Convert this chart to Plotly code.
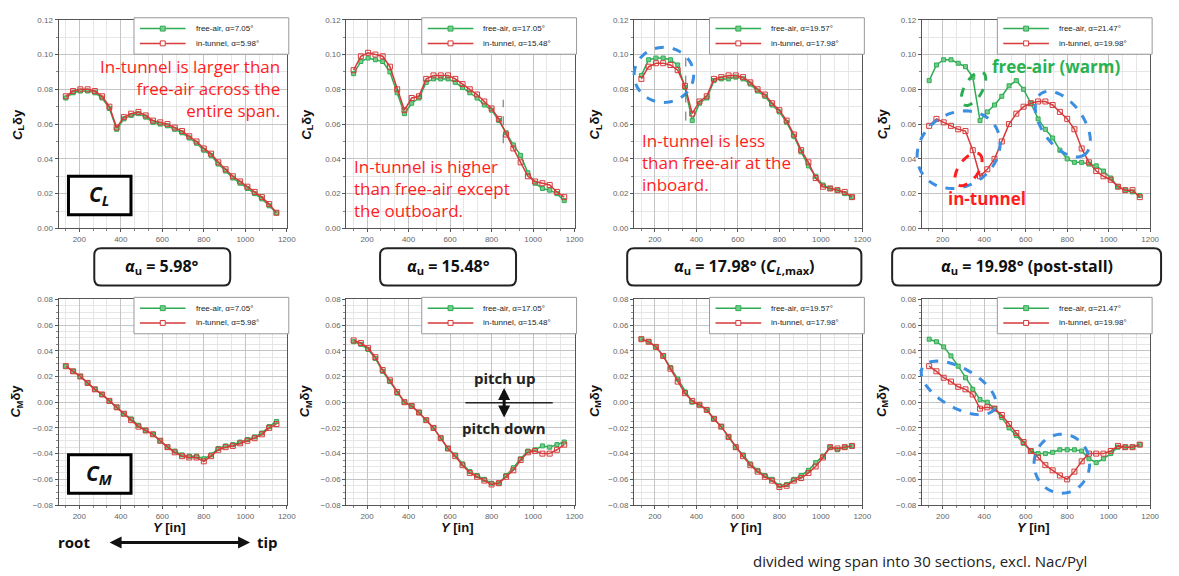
import numpy as np
import plotly.graph_objects as go

W, H = 1179, 576

# ---------------- data ----------------
span_y = [135, 170, 205, 240, 275, 310, 345, 380, 415, 450, 485, 520, 555, 590, 625,
          660, 695, 730, 765, 800, 835, 870, 905, 940, 975, 1010, 1045, 1080, 1115, 1150]

# Sectional lift  C_L*dy
cl_free_1 = [0.075, 0.078, 0.079, 0.079, 0.078, 0.075, 0.069, 0.057, 0.063, 0.065, 0.066, 0.064, 0.061, 0.060, 0.059,
             0.057, 0.055, 0.052, 0.049, 0.045, 0.042, 0.037, 0.033, 0.029, 0.026, 0.023, 0.020, 0.017, 0.013, 0.009]
cl_tun_1 = [0.076, 0.079, 0.080, 0.080, 0.079, 0.076, 0.070, 0.058, 0.064, 0.066, 0.067, 0.065, 0.062, 0.061, 0.060,
            0.058, 0.056, 0.053, 0.050, 0.046, 0.043, 0.038, 0.034, 0.030, 0.027, 0.024, 0.021, 0.018, 0.014, 0.009]
cl_free_2 = [0.089, 0.096, 0.098, 0.097, 0.096, 0.090, 0.078, 0.066, 0.072, 0.075, 0.084, 0.086, 0.086, 0.086, 0.084,
             0.081, 0.078, 0.075, 0.071, 0.068, 0.062, 0.055, 0.048, 0.042, 0.032, 0.026, 0.023, 0.022, 0.020, 0.016]
cl_tun_2 = [0.091, 0.099, 0.101, 0.100, 0.099, 0.093, 0.080, 0.068, 0.075, 0.076, 0.086, 0.088, 0.088, 0.088, 0.086,
            0.083, 0.080, 0.077, 0.073, 0.069, 0.063, 0.054, 0.046, 0.038, 0.030, 0.027, 0.026, 0.025, 0.021, 0.018]
cl_free_3 = [0.088, 0.097, 0.098, 0.098, 0.097, 0.094, 0.081, 0.062, 0.072, 0.075, 0.085, 0.086, 0.086, 0.087, 0.086,
             0.083, 0.079, 0.076, 0.071, 0.067, 0.061, 0.053, 0.044, 0.036, 0.030, 0.025, 0.023, 0.022, 0.020, 0.018]
cl_tun_3 = [0.086, 0.093, 0.095, 0.095, 0.094, 0.091, 0.082, 0.066, 0.073, 0.076, 0.086, 0.087, 0.088, 0.088, 0.087,
            0.084, 0.080, 0.077, 0.072, 0.068, 0.062, 0.054, 0.045, 0.038, 0.029, 0.024, 0.023, 0.022, 0.021, 0.018]
cl_free_4 = [0.085, 0.094, 0.097, 0.097, 0.095, 0.093, 0.087, 0.062, 0.067, 0.071, 0.076, 0.082, 0.085, 0.080, 0.072,
             0.063, 0.057, 0.052, 0.045, 0.040, 0.038, 0.038, 0.037, 0.036, 0.033, 0.029, 0.024, 0.022, 0.021, 0.019]
cl_tun_4 = [0.059, 0.063, 0.061, 0.059, 0.057, 0.056, 0.045, 0.030, 0.034, 0.040, 0.050, 0.060, 0.066, 0.070, 0.072,
            0.073, 0.073, 0.071, 0.067, 0.063, 0.057, 0.046, 0.038, 0.033, 0.030, 0.028, 0.024, 0.022, 0.022, 0.018]

# Sectional pitching moment  C_M*dy
cm_free_1 = [0.028, 0.024, 0.020, 0.015, 0.010, 0.006, 0.001, -0.004, -0.009, -0.013, -0.018, -0.022, -0.025, -0.030, -0.035,
             -0.038, -0.041, -0.042, -0.042, -0.044, -0.041, -0.036, -0.034, -0.033, -0.031, -0.029, -0.027, -0.024, -0.019, -0.015]
cm_tun_1 = [0.028, 0.024, 0.020, 0.015, 0.010, 0.006, 0.001, -0.004, -0.009, -0.014, -0.019, -0.022, -0.025, -0.030, -0.035,
            -0.039, -0.042, -0.043, -0.043, -0.046, -0.042, -0.037, -0.035, -0.034, -0.032, -0.030, -0.028, -0.025, -0.020, -0.017]
cm_free_2 = [0.047, 0.045, 0.041, 0.034, 0.024, 0.016, 0.007, 0.000, -0.003, -0.008, -0.014, -0.020, -0.028, -0.036, -0.041,
             -0.048, -0.054, -0.057, -0.060, -0.063, -0.063, -0.057, -0.051, -0.044, -0.038, -0.037, -0.034, -0.035, -0.033, -0.031]
cm_tun_2 = [0.048, 0.046, 0.042, 0.035, 0.025, 0.017, 0.008, 0.000, -0.003, -0.008, -0.014, -0.020, -0.028, -0.036, -0.042,
            -0.049, -0.055, -0.058, -0.061, -0.064, -0.063, -0.058, -0.053, -0.045, -0.039, -0.038, -0.040, -0.040, -0.037, -0.033]
cm_free_3 = [0.049, 0.047, 0.043, 0.036, 0.027, 0.018, 0.008, 0.000, -0.002, -0.006, -0.013, -0.019, -0.027, -0.035, -0.041,
             -0.048, -0.053, -0.057, -0.060, -0.065, -0.064, -0.060, -0.057, -0.053, -0.047, -0.042, -0.035, -0.037, -0.035, -0.034]
cm_tun_3 = [0.049, 0.047, 0.043, 0.036, 0.026, 0.016, 0.007, 0.001, -0.002, -0.006, -0.013, -0.019, -0.027, -0.035, -0.042,
            -0.049, -0.054, -0.058, -0.061, -0.066, -0.065, -0.061, -0.059, -0.055, -0.050, -0.043, -0.035, -0.036, -0.035, -0.034]
cm_free_4 = [0.049, 0.047, 0.043, 0.036, 0.028, 0.019, 0.010, 0.002, 0.000, -0.005, -0.012, -0.020, -0.026, -0.032, -0.038,
             -0.040, -0.040, -0.039, -0.037, -0.037, -0.037, -0.038, -0.044, -0.047, -0.044, -0.040, -0.035, -0.035, -0.035, -0.033]
cm_tun_4 = [0.028, 0.024, 0.019, 0.016, 0.012, 0.010, 0.006, -0.005, -0.004, -0.005, -0.010, -0.017, -0.024, -0.031, -0.038,
            -0.043, -0.049, -0.053, -0.057, -0.060, -0.054, -0.046, -0.040, -0.040, -0.040, -0.038, -0.034, -0.035, -0.035, -0.033]

alpha_free = ["7.05", "17.05", "19.57", "21.47"]
alpha_tunnel = ["5.98", "15.48", "17.98", "19.98"]
cl_free = [cl_free_1, cl_free_2, cl_free_3, cl_free_4]
cl_tun = [cl_tun_1, cl_tun_2, cl_tun_3, cl_tun_4]
cm_free = [cm_free_1, cm_free_2, cm_free_3, cm_free_4]
cm_tun = [cm_tun_1, cm_tun_2, cm_tun_3, cm_tun_4]

x_ticks = [200, 400, 600, 800, 1000, 1200]

# ---------------- layout helpers ----------------
def PX(p):
    return p / W

def PY(p):
    return 1 - p / H

GREEN = "rgb(46,172,84)"
GREEN_M = "rgb(120,205,140)"
RED = "rgb(214,58,58)"
BLUE = "rgb(60,142,224)"
TXT_RED = "rgb(255,30,30)"
TXT_GREEN = "rgb(40,178,80)"

col_px = [(59, 289), (349, 579), (639, 869), (929, 1159)]
top_px = (16, 228)
bot_px = (300, 509)

fig = go.Figure()
layout = dict(
    width=W, height=H, margin=dict(l=0, r=0, t=0, b=0),
    paper_bgcolor="white", plot_bgcolor="white", showlegend=False,
    font=dict(family="Liberation Sans", color="#333"),
)

axis_common = dict(
    showline=True, linecolor="#555", linewidth=1, mirror=True,
    ticks="outside", ticklen=3, tickcolor="#555", zeroline=False,
    showgrid=True, gridcolor="#c4c4c4", gridwidth=1,
    tickfont=dict(size=8, color="#666", family="Liberation Sans"),
)

annotations = []
shapes = []

def ann(px, py, text, size=12, color="#222", xanchor="center", yanchor="middle", align="center",
        family="Open Sans", angle=0):
    annotations.append(dict(x=PX(px), y=PY(py), xref="paper", yref="paper", text=text,
                            showarrow=False, xanchor=xanchor, yanchor=yanchor, align=align,
                            textangle=angle, font=dict(size=size, color=color, family=family)))

def legend_box(x_right, y_top, labels):
    bx1 = x_right + 2
    bx0 = bx1 - 156
    by0 = y_top - 2
    by1 = by0 + 37
    shapes.append(dict(type="rect", xref="paper", yref="paper", x0=PX(bx0), x1=PX(bx1),
                       y0=PY(by1), y1=PY(by0), line=dict(color="#999", width=1), fillcolor="white",
                       layer="above"))
    for i, (lab, col, fill) in enumerate(labels):
        yy = by0 + 11 + 15 * i
        shapes.append(dict(type="line", xref="paper", yref="paper", x0=PX(bx0 + 6), x1=PX(bx0 + 52),
                           y0=PY(yy), y1=PY(yy), line=dict(color=col, width=1.5), layer="above"))
        cx = bx0 + 29
        shapes.append(dict(type="rect", xref="paper", yref="paper", x0=PX(cx - 2.5), x1=PX(cx + 2.5),
                           y0=PY(yy + 2.5), y1=PY(yy - 2.5), line=dict(color=col, width=1),
                           fillcolor=fill, layer="above"))
        ann(bx0 + 60, yy, lab, size=8, color="#222", xanchor="left", family="Liberation Sans")

for r in range(2):
    ypx = top_px if r == 0 else bot_px
    for c in range(4):
        k = r * 4 + c + 1
        xa = "xaxis" if k == 1 else f"xaxis{k}"
        ya = "yaxis" if k == 1 else f"yaxis{k}"
        xr = "x" if k == 1 else f"x{k}"
        yr = "y" if k == 1 else f"y{k}"
        x0, x1 = col_px[c]
        layout[xa] = dict(axis_common, domain=[PX(x0), PX(x1)], anchor=yr, range=[100, 1200],
                          tickvals=x_ticks,
                          minor=dict(dtick=200 / 3, tick0=0, showgrid=True, gridcolor="#e6e6e6",
                                     ticks="outside", ticklen=2, tickcolor="#888"))
        if r == 0:
            layout[ya] = dict(axis_common, domain=[PY(ypx[1]), PY(ypx[0])], anchor=xr,
                              range=[0, 0.12], dtick=0.02, tick0=0, tickformat=".2f",
                              minor=dict(dtick=0.01, showgrid=True, gridcolor="#e6e6e6",
                                         ticks="outside", ticklen=2, tickcolor="#888"))
            f_vals, t_vals = cl_free[c], cl_tun[c]
        else:
            layout[ya] = dict(axis_common, domain=[PY(ypx[1]), PY(ypx[0])], anchor=xr,
                              range=[-0.08, 0.08], dtick=0.02, tick0=0, tickformat=".2f",
                              minor=dict(dtick=0.005, showgrid=True, gridcolor="#e6e6e6",
                                         ticks="outside", ticklen=2, tickcolor="#888"))
            f_vals, t_vals = cm_free[c], cm_tun[c]
        name_f = f"free-air, α={alpha_free[c]}°"
        name_t = f"in-tunnel, α={alpha_tunnel[c]}°"
        fig.add_trace(go.Scatter(
            x=span_y, y=f_vals, mode="lines+markers", xaxis=xr, yaxis=yr, name=name_f,
            line=dict(color=GREEN, width=1.5),
            marker=dict(symbol="square", size=4, color=GREEN_M, line=dict(color=GREEN, width=1))))
        fig.add_trace(go.Scatter(
            x=span_y, y=t_vals, mode="lines+markers", xaxis=xr, yaxis=yr, name=name_t,
            line=dict(color=RED, width=1.5),
            marker=dict(symbol="square-open", size=5, color=RED, line=dict(color=RED, width=1))))
        legend_box(x1, ypx[0], [(name_f, GREEN, GREEN_M), (name_t, RED, "white")])

fig.update_layout(**layout)

# y-axis titles
for cx in [18, 309, 600, 890]:
    ann(cx, 122, "<b><i>C</i><sub>L</sub>δy</b>", size=13, color="#111", family="Liberation Sans", angle=-90)
for cx in [17, 308, 600, 889]:
    ann(cx, 403, "<b><i>C</i><sub>M</sub>δy</b>", size=13, color="#111", family="Liberation Sans", angle=-90)
# x-axis titles (bottom row)
for (x0, x1) in col_px:
    ann((x0 + x1) / 2 - 3, 532, "<b><i>Y</i> [in]</b>", size=13, color="#111", family="Liberation Sans")

# red / green comments
ann(284, 86, "In-tunnel is larger than<br>free-air across the<br>entire span.", size=17,
    color=TXT_RED, xanchor="right", align="right")
ann(355, 187, "In-tunnel is higher<br>than free-air except<br>the outboard.", size=17,
    color=TXT_RED, xanchor="left", align="left")
ann(645, 161, "In-tunnel is less<br>than free-air at the<br>inboard.", size=17,
    color=TXT_RED, xanchor="left", align="left")
ann(1064, 63, "<b>free-air (warm)</b>", size=17, color=TXT_GREEN)
ann(995, 198, "<b>in-tunnel</b>", size=17, color=TXT_RED)

# C_L / C_M boxes
for (y0, y1, lab) in [(175, 214, "<b><i>C</i><sub><i>L</i></sub></b>"), (458, 497, "<b><i>C</i><sub><i>M</i></sub></b>")]:
    shapes.append(dict(type="rect", xref="paper", yref="paper", x0=PX(69), x1=PX(132), y0=PY(y1), y1=PY(y0),
                       line=dict(color="black", width=3), fillcolor="white", layer="above"))
    ann(100, (y0 + y1) / 2, lab, size=21, color="#111", family="Open Sans")

# rounded alpha boxes
def rounded_rect(x0, y0, x1, y1, rad):
    def P(px, py):
        return f"{PX(px):.5f},{PY(py):.5f}"
    return (f"M {P(x0 + rad, y0)} L {P(x1 - rad, y0)} Q {P(x1, y0)} {P(x1, y0 + rad)} "
            f"L {P(x1, y1 - rad)} Q {P(x1, y1)} {P(x1 - rad, y1)} L {P(x0 + rad, y1)} "
            f"Q {P(x0, y1)} {P(x0, y1 - rad)} L {P(x0, y0 + rad)} Q {P(x0, y0)} {P(x0 + rad, y0)} Z")

alpha_boxes = [(95, 232, "<b><i>α</i><sub>u</sub> = 5.98°</b>"),
               (383, 520, "<b><i>α</i><sub>u</sub> = 15.48°</b>"),
               (632, 868, "<b><i>α</i><sub>u</sub> = 17.98° (<i>C</i><sub><i>L</i>,max</sub>)</b>"),
               (899, 1170, "<b><i>α</i><sub>u</sub> = 19.98° (post-stall)</b>")]
for (x0, x1, lab) in alpha_boxes:
    shapes.append(dict(type="path", xref="paper", yref="paper", path=rounded_rect(x0, 248, x1, 286, 7),
                       line=dict(color="#222", width=2), fillcolor="white"))
    ann((x0 + x1) / 2, 267, lab, size=16, color="#111", family="Open Sans")

# dashed ellipses (pixel-space parametric)
def ellipse(cx, cy, a, b, ang_deg, color, width=3):
    t = np.linspace(0, 2 * np.pi, 73)
    th = np.deg2rad(ang_deg)
    xs = cx + a * np.cos(t) * np.cos(th) - b * np.sin(t) * np.sin(th)
    ys = cy + a * np.cos(t) * np.sin(th) + b * np.sin(t) * np.cos(th)
    path = "M " + " L ".join(f"{PX(x):.5f},{PY(y):.5f}" for x, y in zip(xs, ys)) + " Z"
    shapes.append(dict(type="path", xref="paper", yref="paper", path=path,
                       line=dict(color=color, width=width, dash="dash"), layer="above"))

ellipse(669, 72, 30, 28, 0, BLUE)
ellipse(966, 148, 44, 37, -35, BLUE)
ellipse(1071, 122, 38, 21, 55, BLUE)
ellipse(981, 86, 19, 9, -60, GREEN)
ellipse(976, 168, 19, 10, -55, TXT_RED)
ellipse(966, 390, 42, 20, 30, BLUE)
ellipse(1070, 467, 28, 30, 0, BLUE)

# thin grey dashed markers
shapes.append(dict(type="line", xref="x2", yref="y2", x0=856, x1=856, y0=0.049, y1=0.074,
                   line=dict(color="#666", width=1, dash="dash")))
shapes.append(dict(type="line", xref="x3", yref="y3", x0=349, x1=349, y0=0.062, y1=0.099,
                   line=dict(color="#666", width=1, dash="dash")))

# pitch up / down
ann(508, 380, "<b>pitch up</b>", size=15, color="#222")
ann(508, 431, "<b>pitch down</b>", size=15, color="#222")
shapes.append(dict(type="line", xref="paper", yref="paper", x0=PX(469), x1=PX(557), y0=PY(405), y1=PY(405),
                   line=dict(color="#222", width=1.5)))
annotations.append(dict(x=PX(508), y=PY(390), xref="paper", yref="paper", ax=0, ay=31, text="",
                        showarrow=True, arrowhead=2, arrowside="end+start", arrowwidth=3,
                        arrowsize=0.8, arrowcolor="#111"))

# root / tip
ann(75, 547, "<b>root</b>", size=15, color="#111")
ann(270, 547, "<b>tip</b>", size=15, color="#111")
annotations.append(dict(x=PX(252), y=PY(547), xref="paper", yref="paper", ax=-142, ay=0, text="",
                        showarrow=True, arrowhead=2, arrowside="end+start", arrowwidth=3,
                        arrowsize=0.8, arrowcolor="#111"))

# footnote
ann(757, 566, "divided wing span into 30 sections, excl. Nac/Pyl", size=15, color="#222",
    xanchor="left")

fig.update_layout(annotations=annotations, shapes=shapes)
fig.write_html("out.html")
